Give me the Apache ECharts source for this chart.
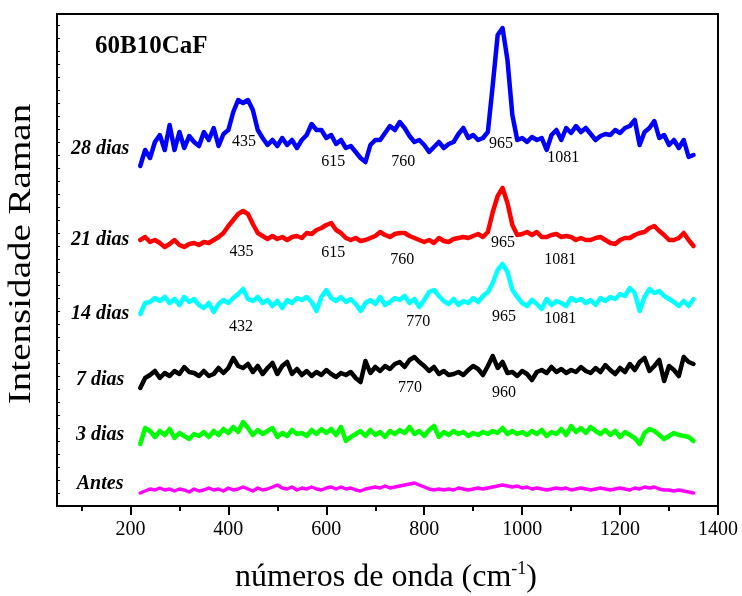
<!DOCTYPE html>
<html>
<head>
<meta charset="utf-8">
<script src="https://cdn.jsdelivr.net/npm/echarts@6/dist/echarts.min.js"></script>
<style>
  html, body { margin: 0; padding: 0; background: #ffffff; }
  #chart { width: 742px; height: 596px; }
</style>
</head>
<body>
<div id="chart"></div>
<script>
// Raman spectra of 60B10CaF glass after immersion (wavenumber in cm-1)
const wavenumbers = [
  220, 230, 240, 250, 260, 270, 280, 290, 300, 310,
  320, 330, 340, 350, 360, 370, 380, 390, 400, 410,
  420, 430, 440, 450, 460, 470, 480, 490, 500, 510,
  520, 530, 540, 550, 560, 570, 580, 590, 600, 610,
  620, 630, 640, 650, 660, 670, 680, 690, 700, 710,
  720, 730, 740, 750, 760, 770, 780, 790, 800, 810,
  820, 830, 840, 850, 860, 870, 880, 890, 900, 910,
  920, 930, 940, 950, 960, 970, 980, 990, 1000, 1010,
  1020, 1030, 1040, 1050, 1060, 1070, 1080, 1090, 1100, 1110,
  1120, 1130, 1140, 1150, 1160, 1170, 1180, 1190, 1200, 1210,
  1220, 1230, 1240, 1250, 1260, 1270, 1280, 1290, 1300, 1310,
  1320, 1330, 1340, 1350
];

// Intensities (a.u.), each spectrum relative to its own baseline
const dias28 = [
  4, 20, 12, 28, 35, 20, 45, 20, 38, 22,
  34, 28, 24, 38, 30, 42, 24, 36, 40, 58,
  70, 67, 70, 60, 40, 32, 25, 30, 24, 32,
  25, 30, 22, 30, 35, 46, 40, 40, 32, 35,
  26, 30, 22, 24, 18, 12, 8, 25, 30, 30,
  37, 44, 40, 48, 42, 34, 28, 30, 25, 18,
  23, 28, 22, 26, 28, 36, 42, 32, 35, 30,
  32, 38, 85, 135, 142, 110, 55, 30, 32, 28,
  33, 30, 32, 20, 35, 40, 30, 42, 37, 44,
  38, 42, 36, 30, 34, 36, 35, 40, 37, 42,
  44, 50, 25, 38, 42, 49, 32, 35, 25, 30,
  22, 30, 13, 15
];
const dias21 = [
  10, 13, 8, 10, 7, 3, 6, 10, 5, 3,
  6, 7, 5, 8, 7, 10, 13, 17, 24, 30,
  36, 39, 36, 26, 17, 14, 11, 14, 11, 13,
  10, 13, 14, 12, 17, 16, 20, 22, 25, 27,
  20, 17, 12, 10, 12, 9, 10, 12, 14, 18,
  15, 13, 16, 17, 17, 14, 12, 10, 8, 10,
  7, 12, 9, 8, 11, 12, 13, 12, 14, 16,
  13, 18, 38, 54, 62, 47, 25, 15, 16, 18,
  15, 18, 13, 13, 15, 16, 13, 14, 13, 10,
  12, 10, 10, 12, 13, 10, 7, 6, 10, 12,
  12, 15, 17, 18, 22, 24, 19, 15, 10, 10,
  12, 17, 10, 4
];
const dias14 = [
  4, 15, 16, 20, 17, 21, 15, 19, 13, 21,
  16, 19, 13, 10, 15, 6, 14, 18, 15, 20,
  24, 29, 19, 17, 21, 15, 18, 12, 17, 10,
  18, 15, 20, 18, 21, 16, 7, 21, 28, 20,
  17, 21, 16, 19, 14, 7, 15, 18, 14, 21,
  13, 16, 20, 18, 22, 15, 19, 11, 18, 26,
  28, 22, 17, 14, 19, 13, 17, 15, 20, 16,
  22, 26, 35, 48, 54, 46, 28, 21, 15, 12,
  18, 14, 9, 19, 13, 17, 15, 12, 20, 17,
  19, 15, 18, 13, 20, 17, 21, 19, 24, 22,
  30, 25, 7, 21, 29, 25, 27, 22, 19, 16,
  12, 17, 12, 19
];
const dias7 = [
  4, 14, 17, 21, 14, 19, 16, 21, 18, 25,
  20, 19, 16, 21, 16, 18, 24, 19, 24, 34,
  26, 24, 28, 20, 26, 18, 24, 29, 18, 26,
  30, 18, 23, 17, 21, 16, 20, 17, 22, 18,
  15, 19, 17, 20, 14, 10, 31, 19, 25, 21,
  26, 23, 28, 30, 25, 32, 35, 30, 26, 21,
  25, 18, 21, 17, 18, 20, 17, 22, 26, 23,
  17, 26, 36, 24, 30, 19, 20, 16, 21, 18,
  12, 20, 22, 19, 25, 20, 23, 19, 22, 20,
  25, 21, 19, 24, 20, 27, 22, 18, 24, 20,
  28, 22, 30, 34, 21, 26, 32, 11, 26, 22,
  16, 35, 30, 28
];
const dias3 = [
  4, 20, 17, 11, 17, 13, 19, 10, 15, 12,
  9, 14, 12, 16, 11, 17, 13, 19, 15, 21,
  16, 26, 20, 13, 18, 14, 17, 20, 11, 15,
  12, 18, 14, 15, 12, 18, 14, 19, 15, 19,
  13, 21, 7, 11, 14, 17, 12, 18, 13, 16,
  11, 17, 14, 18, 15, 21, 14, 17, 12, 18,
  22, 11, 16, 13, 17, 14, 16, 12, 15, 13,
  16, 14, 17, 15, 20, 14, 17, 14, 16, 13,
  17, 14, 18, 12, 16, 14, 19, 13, 22, 16,
  20, 15, 21, 17, 14, 18, 13, 17, 11, 16,
  13, 10, 4, 15, 19, 17, 13, 9, 12, 15,
  13, 12, 11, 7
];
const antes = [
  3, 5, 7, 6, 8, 6, 7, 5, 7, 6,
  4, 7, 5, 6, 8, 6, 7, 5, 8, 6,
  7, 9, 7, 5, 8, 6, 7, 9, 11, 8,
  7, 9, 6, 8, 7, 9, 7, 6, 8, 9,
  7, 9, 7, 8, 6, 5, 7, 8, 9, 8,
  10, 8, 9, 10, 11, 12, 13, 11, 9, 7,
  6, 7, 6, 7, 6, 8, 7, 6, 7, 8,
  7, 8, 9, 10, 11, 10, 9, 10, 8, 9,
  7, 8, 7, 6, 7, 8, 7, 8, 6, 7,
  8, 7, 6, 7, 8, 7, 6, 7, 8, 7,
  6, 8, 7, 9, 8, 9, 7, 6, 6, 5,
  6, 5, 4, 3
];

const seriesNames   = ['28 dias', '21 dias', '14 dias', '7 dias', '3 dias', 'Antes'];
const seriesValues  = [dias28, dias21, dias14, dias7, dias3, antes];
// vertical shift of each spectrum in the stack
const seriesOffsets = [336, 256, 188, 114, 58, 10];
const seriesColors  = ['#0000ff', '#ff0000', '#00ffff', '#000000', '#00ff00', '#ff00ff'];

// Band assignments written next to each spectrum: [text, wavenumber, stacked intensity]
const bandLabels = [
  ['435', 433, 364], ['615', 615, 344], ['760', 758, 344], ['965', 958, 362], ['1081', 1085, 348],
  ['435', 428, 254], ['615', 615, 253], ['760', 756, 246], ['965', 962, 263], ['1081', 1079, 246],
  ['432', 427, 179], ['770', 789, 184], ['965', 964, 189], ['1081', 1079, 187],
  ['770', 772, 118], ['960', 964, 113]
];
// Where each spectrum's name is written: [wavenumber, stacked intensity]
const nameAnchors = [[139, 357], [139, 266], [139, 192], [139, 126], [139, 71], [139, 22]];

const xMajorTicks = [200, 400, 600, 800, 1000, 1200, 1400];
const xMinorTicks = [100, 300, 500, 700, 900, 1100, 1300];

const SERIF = '"Liberation Serif", "Times New Roman", Times, serif';

const chart = echarts.init(document.getElementById('chart'), null, { renderer: 'canvas' });

const lineSeries = seriesNames.map((name, k) => ({
  name: name,
  type: 'line',
  xAxisIndex: 0,
  yAxisIndex: 0,
  showSymbol: false,
  symbol: 'none',
  silent: true,
  z: 3 + (6 - k) * 0.1,
  lineStyle: {
    color: seriesColors[k],
    width: k === 5 ? 3.5 : 4.5,
    cap: 'round',
    join: 'round'
  },
  data: wavenumbers.map((w, i) => [w, seriesOffsets[k] + seriesValues[k][i]])
}));

function textLayer(items, font) {
  return {
    type: 'scatter',
    xAxisIndex: 0,
    yAxisIndex: 0,
    symbolSize: 1,
    silent: true,
    z: 5,
    itemStyle: { color: '#ffffff', opacity: 0 },
    label: Object.assign({
      show: true,
      position: [0, 0],
      align: 'center',
      verticalAlign: 'middle',
      formatter: '{b}',
      color: '#000000',
      opacity: 1,
      textBorderWidth: 0,
      fontFamily: SERIF
    }, font),
    data: items
  };
}

const bandSeries = textLayer(
  bandLabels.map(b => ({ name: b[0], value: [b[1], b[2]] })),
  { fontSize: 16 }
);
const nameSeries = textLayer(
  seriesNames.map((n, k) => ({ name: n, value: nameAnchors[k] })),
  { fontSize: 20, fontStyle: 'italic', fontWeight: 'bold' }
);

const option = {
  animation: false,
  backgroundColor: '#ffffff',
  grid: {
    left: 57, right: 24, top: 14, bottom: 90,
    show: true,
    borderColor: '#000',
    borderWidth: 2,
    backgroundColor: 'transparent'
  },
  xAxis: [
    {
      type: 'value',
      min: 50, max: 1400,
      axisLine: { show: true, onZero: false, lineStyle: { color: '#000', width: 2 } },
      splitLine: { show: false },
      axisTick: { show: true, inside: false, length: 9, customValues: xMajorTicks,
                  lineStyle: { color: '#000', width: 2 } },
      axisLabel: { show: true, customValues: xMajorTicks, margin: 14,
                   formatter: v => String(v),
                   color: '#000', fontFamily: SERIF, fontSize: 20 }
    },
    {
      type: 'value',
      min: 50, max: 1400,
      position: 'bottom',
      axisLine: { show: false },
      splitLine: { show: false },
      axisTick: { show: true, inside: false, length: 5, customValues: xMinorTicks,
                  lineStyle: { color: '#000', width: 2 } },
      axisLabel: { show: false }
    }
  ],
  yAxis: {
    type: 'value',
    min: 0, max: 492, interval: 13,
    axisLine: { show: true, lineStyle: { color: '#000', width: 2 } },
    splitLine: { show: false },
    axisTick: { show: true, inside: true, length: 3, lineStyle: { color: '#000', width: 1 } },
    axisLabel: { show: false }
  },
  graphic: [
    {
      type: 'text',
      x: 95, y: 47,
      style: {
        text: '60B10CaF',
        font: 'bold 25px ' + SERIF,
        fill: '#000',
        textAlign: 'left',
        textVerticalAlign: 'middle'
      }
    },
    {
      type: 'text',
      x: 22, y: 254,
      rotation: Math.PI / 2,
      scaleX: 1.22,
      style: {
        text: 'Intensidade Raman',
        font: '32px ' + SERIF,
        fill: '#000',
        textAlign: 'center',
        textVerticalAlign: 'middle'
      }
    },
    {
      type: 'text',
      x: 386, y: 578,
      style: {
        text: '{m|números de onda (cm}{s|-1}{m|)}',
        fill: '#000',
        textAlign: 'center',
        textVerticalAlign: 'middle',
        rich: {
          m: { fontFamily: SERIF, fontSize: 32, lineHeight: 36, fill: '#000' },
          s: { fontFamily: SERIF, fontSize: 18, lineHeight: 36, verticalAlign: 'top', fill: '#000' }
        }
      }
    }
  ],
  series: lineSeries.concat([bandSeries, nameSeries])
};

chart.setOption(option);
</script>
</body>
</html>
